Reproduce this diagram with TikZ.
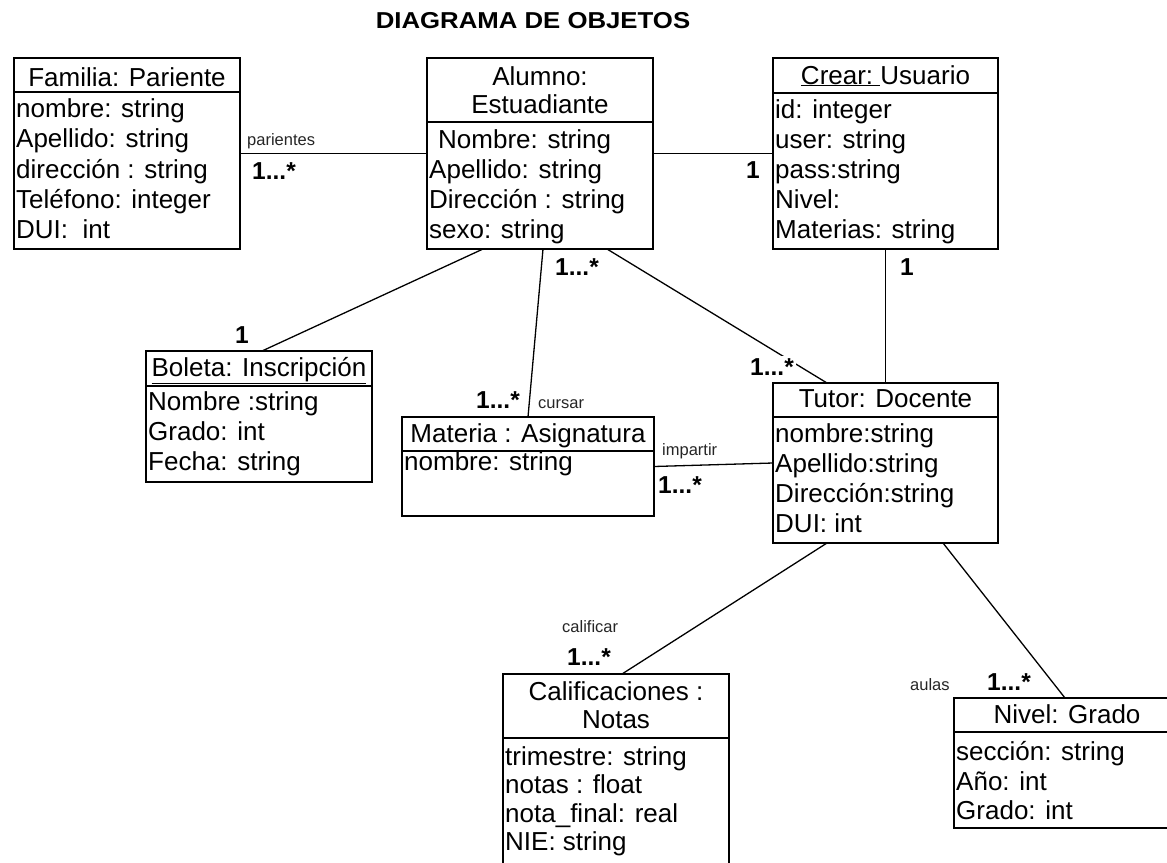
\documentclass[tikz,border=0pt]{standalone}
\usepackage{fontspec}
\setmainfont{Liberation Sans}
\tikzset{
  umlbox/.style={draw, line width=1.8pt, anchor=north west, inner sep=0pt, outer sep=0pt},
  divline/.style={line width=1.8pt},
  attr/.style={anchor=base west, inner sep=0pt, font=\fontsize{26}{30}\selectfont},
  ttl/.style={anchor=base, inner sep=0pt, font=\fontsize{26}{30}\selectfont},
  role/.style={anchor=base west, inner sep=0pt, font=\fontsize{16.5}{19}\selectfont, text=black!85},
  mult/.style={anchor=base west, inner sep=0pt, font=\bfseries\fontsize{24.5}{28}\selectfont},
  conn/.style={line width=1.3pt}
}
\begin{document}
\begin{tikzpicture}[x=1pt,y=-1pt]
\useasboundingbox (0,0) rectangle (1167,862);
\clip (0,0) rectangle (1167,862);
\fill[white] (0,0) rectangle (1167,862);

% title
\node[anchor=base, inner sep=0pt, xscale=1.12, font=\bfseries\fontsize{23}{27}\selectfont] (title) at (533,28) {DIAGRAMA DE OBJETOS};

% Familia: Pariente
\node[umlbox, minimum width=226pt, minimum height=191pt] (fam) at (14,58) {};
\draw[divline] (14,92) -- (240,92);
\node[ttl] (famt) at (127,86) {Familia: Pariente};
\node[attr] (fam1) at (16,117) {nombre: string};
\node[attr] (fam2) at (16,147) {Apellido: string};
\node[attr] (fam3) at (16,178) {dirección : string};
\node[attr] (fam4) at (16,208) {Teléfono: integer};
\node[attr] (fam5) at (16,238) {DUI:\ \ int};

% Alumno: Estuadiante
\node[umlbox, minimum width=226pt, minimum height=191pt] (alu) at (427,58) {};
\draw[divline] (427,122) -- (653,122);
\node[ttl] (alut1) at (540,85) {Alumno:};
\node[ttl] (alut2) at (540,113) {Estuadiante};
\node[attr] (alu1) at (438,148) {Nombre: string};
\node[attr] (alu2) at (429,178) {Apellido: string};
\node[attr] (alu3) at (429,208) {Dirección : string};
\node[attr] (alu4) at (429,238) {sexo: string};

% Crear: Usuario
\node[umlbox, minimum width=225pt, minimum height=191pt] (usr) at (773,58) {};
\draw[divline] (773,93) -- (998,93);
\node[ttl] (usrt) at (885.5,84) {\underline{Crear:\ }Usuario};
\node[attr] (usr1) at (775,118) {id: integer};
\node[attr] (usr2) at (775,148) {user: string};
\node[attr] (usr3) at (775,178) {pass:string};
\node[attr] (usr4) at (775,208) {Nivel:};
\node[attr] (usr5) at (775,238) {Materias: string};

% Boleta: Inscripcion
\node[umlbox, minimum width=226pt, minimum height=131pt] (bol) at (146,351) {};
\draw[divline] (146,386) -- (372,386);
\node[ttl] (bolt) at (259,376) {\underline{Boleta: Inscripción}};
\node[attr] (bol1) at (148,410) {Nombre :string};
\node[attr] (bol2) at (148,440) {Grado: int};
\node[attr] (bol3) at (148,470) {Fecha: string};

% Materia : Asignatura
\node[umlbox, minimum width=252pt, minimum height=99pt] (mat) at (402,417) {};
\draw[divline] (402,451) -- (654,451);
\node[ttl] (matt) at (528,442) {Materia : Asignatura};
\node[attr] (mat1) at (404,470) {nombre: string};

% Tutor: Docente
\node[umlbox, minimum width=225pt, minimum height=160pt] (tut) at (773,383) {};
\draw[divline] (773,417) -- (998,417);
\node[ttl] (tutt) at (885.5,407) {Tutor: Docente};
\node[attr] (tut1) at (775,442) {nombre:string};
\node[attr] (tut2) at (775,472) {Apellido:string};
\node[attr] (tut3) at (775,502) {Dirección:string};
\node[attr] (tut4) at (775,532) {DUI: int};

% Calificaciones : Notas
\node[umlbox, minimum width=226pt, minimum height=206pt] (cal) at (503,674) {};
\draw[divline] (503,738) -- (729,738);
\node[ttl] (calt1) at (616,700) {Calificaciones :};
\node[ttl] (calt2) at (616,728) {Notas};
\node[attr] (cal1) at (505,765) {trimestre: string};
\node[attr] (cal2) at (505,793) {notas : float};
\node[attr] (cal3) at (505,822) {nota\_final: real};
\node[attr] (cal4) at (505,850) {NIE: string};

% Nivel: Grado
\node[umlbox, minimum width=226pt, minimum height=130pt] (niv) at (954,698) {};
\draw[divline] (954,732) -- (1180,732);
\node[ttl] (nivt) at (1067,723) {Nivel: Grado};
\node[attr] (niv1) at (956,760) {sección: string};
\node[attr] (niv2) at (956,790) {Año: int};
\node[attr] (niv3) at (956,819) {Grado: int};

% connectors
\draw[conn] (fam.east) -- (alu.west);
\draw[conn] (alu.east) -- (usr.west);
\draw[conn] (usr.south) -- (tut.north);
\draw[conn] ([xshift=56pt]alu.south west) -- ([xshift=116pt]bol.north west);
\draw[conn] ([xshift=116pt]alu.south west) -- ([xshift=126pt]mat.north west);
\draw[conn] ([xshift=180pt]alu.south west) -- ([xshift=54pt]tut.north west);
\draw[conn] (mat.east) -- (tut.west);
\draw[conn] ([xshift=54pt]tut.south west) -- ([xshift=119pt]cal.north west);
\draw[conn] ([xshift=170pt]tut.south west) -- ([xshift=111pt]niv.north west);

% labels
\node[role] (lpar) at (247,145) {parientes};
\node[mult] (mpar) at (252,179) {1...*};
\node[mult, anchor=base] (musr) at (753,178) {1};
\node[mult, anchor=base] (musr2) at (907,275) {1};
\node[mult, anchor=base] (mbol) at (242,343) {1};
\node[mult] (mmat) at (476,408) {1...*};
\node[role] (lcur) at (538,408) {cursar};
\node[role] (limp) at (662,455) {impartir};
\node[mult] (mimp) at (658,493) {1...*};
\node[mult] (malu) at (555,275) {1...*};
\node[mult, fill=white, inner sep=2pt] (mtut) at (748,375) {1...*};
\node[role] (lcal) at (562,632) {calificar};
\node[mult] (mcal) at (567,665) {1...*};
\node[role] (laul) at (910,690) {aulas};
\node[mult] (mniv) at (987,690) {1...*};
\end{tikzpicture}
\end{document}
